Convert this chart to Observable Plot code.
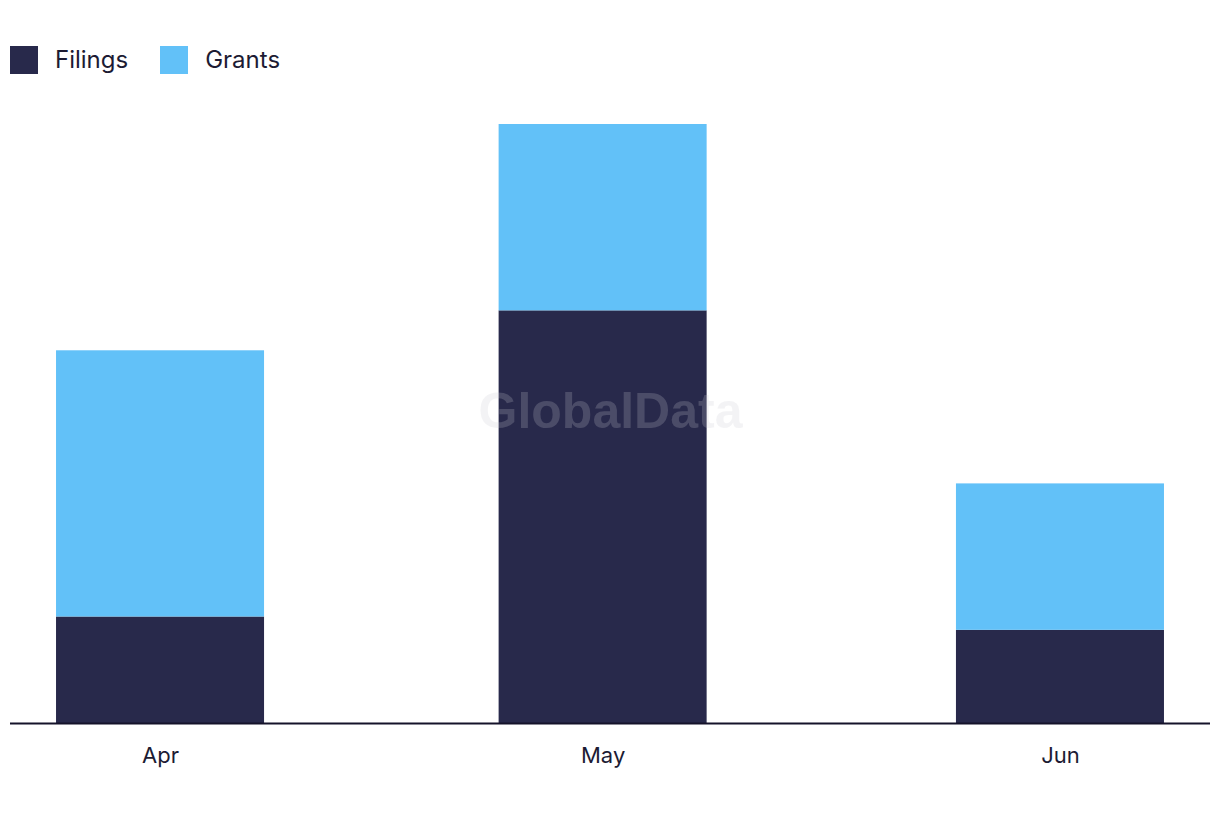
<!DOCTYPE html>
<html>
<head>
<meta charset="utf-8">
<script src="https://cdn.jsdelivr.net/npm/d3@7"></script>
<script src="https://cdn.jsdelivr.net/npm/@observablehq/plot@0.6"></script>
<style>
  body { margin: 0; background: #fff; font-family: Inter, "Noto Sans", sans-serif; color: #1c1b33; }
  #legend { height: 100px; display: flex; align-items: center; padding-left: 10px; box-sizing: border-box; padding-top: 19px; }
  .item { display: flex; align-items: center; margin-right: 32px; font-size: 24px; }
  .sw { width: 28px; height: 28px; margin-right: 17px; }
  #chart svg { display: block; }
</style>
</head>
<body>
<div id="legend"></div>
<div id="chart"></div>
<script>
const months = ["Apr", "May", "Jun"];
const monthDates = ["2023-04-01", "2023-05-01", "2023-06-01"];
const filings = [8, 31, 7];
const grants = [20, 14, 11];
const seriesNames = ["Filings", "Grants"];
const seriesColors = ["#28294b", "#62c1f8"];

const DAY = 24 * 3600 * 1000;
const data = [];
months.forEach((m, i) => {
  const d = new Date(monthDates[i]);
  data.push({month: m, date: d, series: "Filings", value: filings[i]});
  data.push({month: m, date: d, series: "Grants", value: grants[i]});
});
const dates = monthDates.map(s => new Date(s));
const halfBar = 7.05 * DAY;
const pad = 10.17 * DAY;

const legend = document.getElementById("legend");
seriesNames.forEach((n, i) => {
  const it = document.createElement("div");
  it.className = "item";
  it.innerHTML = `<div class="sw" style="background:${seriesColors[i]}"></div><span>${n}</span>`;
  legend.appendChild(it);
});

const chart = Plot.plot({
  width: 1220,
  height: 722,
  marginLeft: 10,
  marginRight: 10,
  marginTop: 24,
  marginBottom: 99,
  style: {fontFamily: "Inter, 'Noto Sans', sans-serif", color: "#1c1b33", background: "#fff"},
  x: {type: "utc", domain: [new Date(+dates[0] - pad), new Date(+dates[2] + pad)], axis: null},
  y: {domain: [0, 45], axis: null},
  color: {domain: seriesNames, range: seriesColors},
  marks: [
    Plot.rectY(data, Plot.stackY({
      x1: d => new Date(+d.date - halfBar),
      x2: d => new Date(+d.date + halfBar),
      y: "value",
      fill: "series",
      order: seriesNames
    })),
    Plot.ruleY([0], {stroke: "#15132a", strokeWidth: 2}),
    Plot.text(months, {
      x: (d, i) => dates[i],
      y: 0,
      text: d => d,
      dy: 32,
      fontSize: 22,
      fill: "#1c1b33"
    }),
    Plot.text(["GlobalData"], {
      frameAnchor: "middle",
      dx: 0,
      dy: -12,
      fontSize: 50,
      fontWeight: "bold",
      fill: "#c8c8d0",
      fillOpacity: 0.22,
      fontFamily: "'Liberation Sans', Arial, sans-serif"
    })
  ]
});
document.getElementById("chart").appendChild(chart);
</script>
</body>
</html>
